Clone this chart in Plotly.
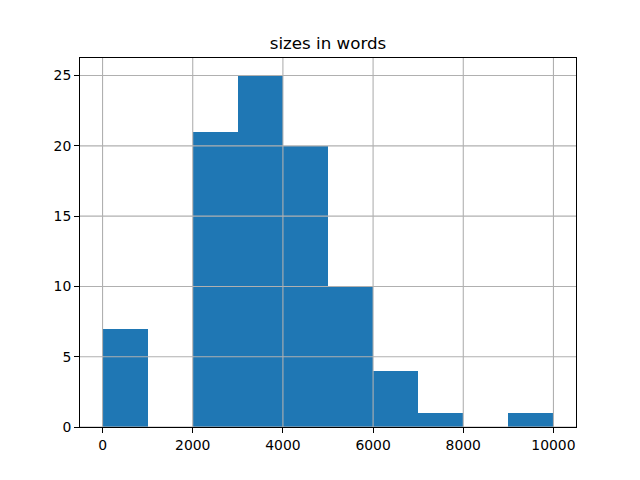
import plotly.graph_objects as go

bin_edges = [0, 1000, 2000, 3000, 4000, 5000, 6000, 7000, 8000, 9000, 10000]
counts = [7, 0, 21, 25, 20, 10, 4, 1, 0, 1]
x_ticks = [0, 2000, 4000, 6000, 8000, 10000]
y_ticks = [0, 5, 10, 15, 20, 25]
title = "sizes in words"

centers = [(a + b) / 2 for a, b in zip(bin_edges[:-1], bin_edges[1:])]
widths = [b - a for a, b in zip(bin_edges[:-1], bin_edges[1:])]

fig = go.Figure(go.Bar(x=centers, y=counts, width=widths,
                       marker=dict(color="#1f77b4", line=dict(width=0))))

xr = [-500, 10500]
yr = [0, 26.25]
shapes = []
for t in x_ticks:
    shapes.append(dict(type="line", xref="x", yref="paper", x0=t, x1=t, y0=0, y1=1,
                       line=dict(color="#b0b0b0", width=1.1), layer="above"))
for t in y_ticks:
    shapes.append(dict(type="line", xref="paper", yref="y", x0=0, x1=1, y0=t, y1=t,
                       line=dict(color="#b0b0b0", width=1.1), layer="above"))

fig.update_layout(
    width=640, height=480,
    margin=dict(l=72, r=72, t=50, b=61),
    paper_bgcolor="white", plot_bgcolor="white",
    font=dict(family="DejaVu Sans", size=13.9, color="black"),
    title=dict(text=title, x=0.5, xref="paper", y=1 - 35/480, yanchor="middle",
               font=dict(size=16.7, family="DejaVu Sans")),
    bargap=0, showlegend=False, shapes=shapes,
)
axis_common = dict(showgrid=False, zeroline=False, showline=True, linecolor="black",
                   linewidth=1.1, mirror=True, ticks="outside", ticklen=4.9,
                   tickwidth=1.1, tickcolor="black", layer="above traces")
fig.update_xaxes(range=xr, tickvals=x_ticks, ticktext=[str(t) for t in x_ticks], **axis_common)
fig.update_yaxes(range=yr, tickvals=y_ticks, ticktext=[str(t) for t in y_ticks], **axis_common)

fig.write_html("out.html")
